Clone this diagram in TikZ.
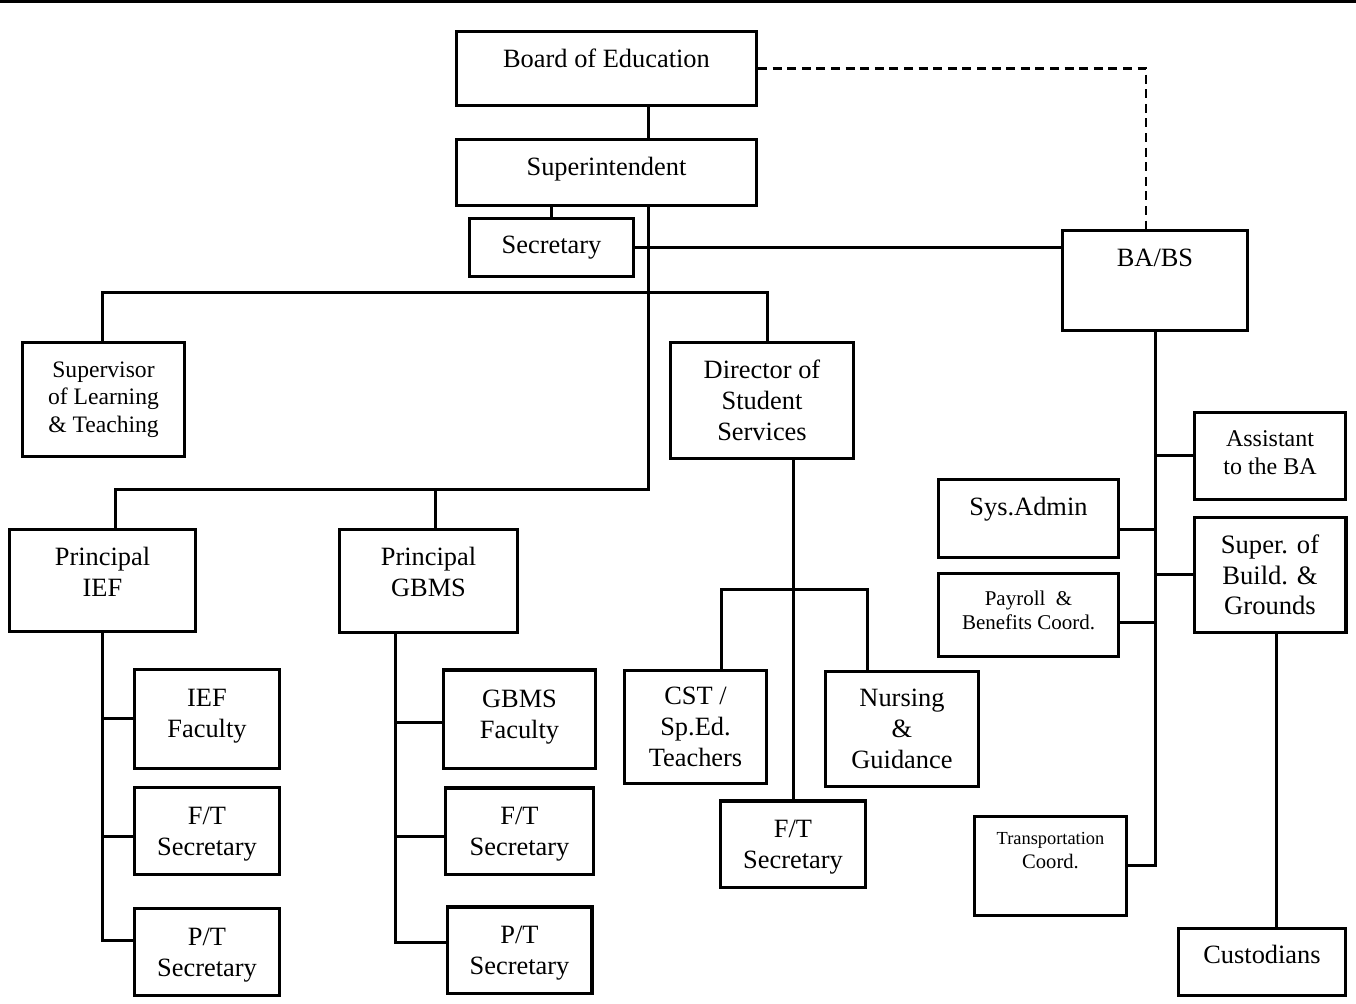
\documentclass[tikz,border=0pt]{standalone}
\usepackage{fontspec}
\setmainfont{Liberation Serif}
\usetikzlibrary{positioning}

\begin{document}
\begin{tikzpicture}[
    x=0.5pt, y=-0.5pt,
    unit/.style={rectangle, draw=black, fill=white, line width=1.7pt, align=center, inner sep=0pt, font=\fontsize{13.2}{15.5}\selectfont},
    boxsize/.style 2 args={minimum width=#1, minimum height=#2},
    secbox/.style={unit, boxsize={72.3pt}{43.3pt}, text depth=0pt},
    link/.style={line width=1.5pt},
    dashedlink/.style={line width=1.1pt, dash pattern=on 4.5pt off 2.8pt}
    ]
    \useasboundingbox (0,0) rectangle (1356,1004);
    \draw[line width=1.5pt] (0,2) -- (1356,2);

    %Top nodes
    \node[unit, boxsize={149.8pt}{36.8pt}, text depth=10.2pt] (board)  at (606.5,68.5) {Board of Education};
    \node[unit, boxsize={149.8pt}{32.8pt}, text depth=6.2pt]  (superintendent) [below=15.5pt of board] {Superintendent};
    \node[unit, boxsize={81.8pt}{28.8pt}]                     (sup_secretary)  at (551.5,247.5) {Secretary};
    \node[unit, boxsize={92.3pt}{49.8pt}, text depth=23.2pt]  (ba_bs)          at (1155,280.5) {BA/BS};

    %Staff nodes
    \node[unit, boxsize={80.8pt}{56.8pt}, font=\fontsize{11.8}{13.75}\selectfont] (supervisor) at (103.5,399.5) {Supervisor\\of Learning\\\& Teaching};
    \node[unit, boxsize={91.3pt}{57.8pt}]  (director) at (762,400.5) {Director of\\Student\\Services};

    %School nodes
    \node[unit, boxsize={92.8pt}{50.8pt}, text depth=8.5pt]  (principal_ief)     at (102.5,580.5) {Principal\\IEF};
    \node[unit, boxsize={88.8pt}{51.3pt}, text depth=9pt]    (principal_gbms)    at (428.5,581) {Principal\\GBMS};
    \node[unit, boxsize={72.3pt}{49.3pt}, text depth=5.4pt]  (ief_faculty)       at (207,719) {IEF\\Faculty};
    \node[secbox]                                            (ief_ft_secretary)  [below=8pt of ief_faculty] {F/T\\Secretary};
    \node[secbox]                                            (ief_pt_secretary)  [below=15.5pt of ief_ft_secretary] {P/T\\Secretary};
    \node[unit, boxsize={75.8pt}{49.3pt}, text depth=5.4pt]  (gbms_faculty)      at (519.5,719.5) {GBMS\\Faculty};
    \node[secbox, minimum width=73.8pt]                      (gbms_ft_secretary) [below=8pt of gbms_faculty] {F/T\\Secretary};
    \node[secbox]                                            (gbms_pt_secretary) [below=14.5pt of gbms_ft_secretary] {P/T\\Secretary};

    %Student services nodes
    \node[unit, boxsize={70.8pt}{56.3pt}] (cst)          at (695.5,727) {CST /\\Sp.Ed.\\Teachers};
    \node[unit, boxsize={76.3pt}{57.3pt}] (nursing)      at (902,729) {Nursing\\\&\\Guidance};
    \node[secbox]                         (ss_secretary) at (793,844.5) {F/T\\Secretary};

    %Business nodes
    \node[unit, boxsize={75.3pt}{43.3pt}, font=\fontsize{12}{14}\selectfont, text depth=3pt] (assistant) at (1270,456) {Assistant\\to the BA};
    \node[unit, boxsize={75.8pt}{57.3pt}, font=\fontsize{13.3}{15.25}\selectfont] (build)     [below=7.5pt of assistant] {Super. of\\Build. \&\\Grounds};
    \node[unit, boxsize={89.8pt}{38.8pt}, text depth=12.2pt]                      (sys_admin) at (1028.5,518.5) {Sys.Admin};
    \node[unit, boxsize={89.8pt}{41.3pt}, font=\fontsize{10.5}{12}\selectfont, text depth=5pt] (payroll) [below=6.5pt of sys_admin] {Payroll\ \ \&\\Benefits Coord.};
    \node[unit, boxsize={75.8pt}{49.3pt}, font=\fontsize{10.3}{12}\selectfont, text depth=16pt] (transportation) at (1050.5,866) {{\fontsize{9.2}{12}\selectfont Transportation}\\Coord.};
    \node[unit, boxsize={83.3pt}{33.3pt}, text depth=7.2pt]                       (custodians) at (1262,962) {Custodians};

    %Junctions
    \coordinate (trunk)        at (648,0);
    \coordinate (staff_left)   at (102,293);
    \coordinate (staff_right)  at (767,293);
    \coordinate (school_left)  at (115,490);
    \coordinate (school_mid)   at (435,490);
    \coordinate (gbms_spine)   at (395,0);
    \coordinate (ss_left)      at (721,590);
    \coordinate (ss_right)     at (867,590);
    \coordinate (ground_spine) at (1276,0);

    %Lines
    \draw[link] (board.south -| trunk) -- (superintendent.north -| trunk);
    \draw[link] (superintendent.south -| sup_secretary.north) -- (sup_secretary.north);
    \draw[link] (sup_secretary.east) -- (sup_secretary.east -| ba_bs.west);
    \draw[dashedlink] (board.east) -| ([xshift=-4.5pt]ba_bs.north);

    \draw[link] (superintendent.south -| trunk) -- (trunk |- school_left) -- (school_left) -- (principal_ief.north -| school_left);
    \draw[link] (school_mid) -- (principal_gbms.north -| school_mid);
    \draw[link] (supervisor.north -| staff_left) -- (staff_left) -- (staff_right) -- (director.north -| staff_right);

    \draw[link] (principal_ief.south) |- ([yshift=5.5pt]ief_pt_secretary.west);
    \draw[link] (principal_ief.south |- ief_faculty.west) -- (ief_faculty.west);
    \draw[link] ([yshift=-3pt]ief_ft_secretary.west -| principal_ief.south) -- ([yshift=-3pt]ief_ft_secretary.west);

    \draw[link] (principal_gbms.south -| gbms_spine) |- ([yshift=4pt]gbms_pt_secretary.west);
    \draw[link] ([yshift=-1.75pt]gbms_faculty.west -| gbms_spine) -- ([yshift=-1.75pt]gbms_faculty.west);
    \draw[link] ([yshift=-2.75pt]gbms_ft_secretary.west -| gbms_spine) -- ([yshift=-2.75pt]gbms_ft_secretary.west);

    \draw[link] (director.south -| ss_secretary.north) -- (ss_secretary.north);
    \draw[link] (cst.north -| ss_left) -- (ss_left) -- (ss_right) -- (nursing.north -| ss_right);

    \draw[link] (ba_bs.south) |- (transportation.east);
    \draw[link] (ba_bs.south |- assistant.west) -- (assistant.west);
    \draw[link] (ba_bs.south |- build.west) -- (build.west);
    \draw[link] ([yshift=-5.75pt]sys_admin.east) -- ([yshift=-5.75pt]sys_admin.east -| ba_bs.south);
    \draw[link] ([yshift=-4pt]payroll.east) -- ([yshift=-4pt]payroll.east -| ba_bs.south);
    \draw[link] (build.south -| ground_spine) -- (custodians.north -| ground_spine);

\end{tikzpicture}
\end{document}
